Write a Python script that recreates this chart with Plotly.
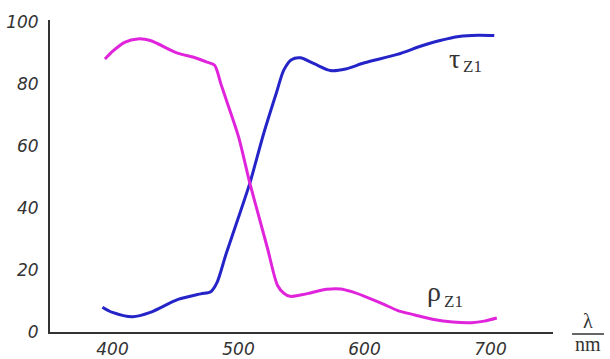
import plotly.graph_objects as go

# Transmission tau_Z1 (blue)
tau_wl = [392, 400, 416, 430, 452, 470, 478, 483, 490, 500, 509, 520, 530, 536, 542, 549,
          560, 573, 585, 600, 626, 645, 660, 675, 690, 703]
tau_val = [8, 6.3, 4.9, 6.3, 10.5, 12.3, 13, 16, 25, 37, 48, 64, 77, 84.5, 87.8, 88.4,
           86.5, 84.3, 84.8, 86.8, 89.5, 92.2, 94, 95.3, 95.7, 95.6]

# Reflection rho_Z1 (magenta)
rho_wl = [394, 400, 410, 420, 430, 451, 465, 475, 481, 486, 491, 500, 509, 515, 523, 531,
          536, 541, 550, 557, 570, 581, 590, 600, 615, 626, 640, 655, 670, 685, 695, 705]
rho_val = [88, 90.5, 93.5, 94.5, 94, 90, 88.5, 87, 86, 80, 74, 63, 48, 39, 27, 15,
           12.5, 11.5, 12, 12.6, 13.8, 13.9, 13, 11.5, 9, 7, 5.5, 4, 3.2, 3, 3.5, 4.5]

x_ticks = [400, 500, 600, 700]
y_ticks = [0, 20, 40, 60, 80, 100]

fig = go.Figure()
fig.add_trace(go.Scatter(x=tau_wl, y=tau_val, mode="lines",
                         line=dict(color="#2424c8", width=3, shape="spline", smoothing=0.8),
                         showlegend=False, hoverinfo="skip"))
fig.add_trace(go.Scatter(x=rho_wl, y=rho_val, mode="lines",
                         line=dict(color="#e024dc", width=3, shape="spline", smoothing=0.8),
                         showlegend=False, hoverinfo="skip"))

W, H = 610, 359
L, R, T, B = 50, 57, 20, 27

serif = "Liberation Serif"
ann = [
    dict(x=454, y=58, text="τ", size=28),
    dict(x=472, y=66, text="Z1", size=17),
    dict(x=434, y=291, text="ρ", size=28),
    dict(x=453, y=301, text="Z1", size=17),
    dict(x=588, y=321, text="λ", size=20),
    dict(x=588, y=344, text="nm", size=20),
]
for a in ann:
    fig.add_annotation(x=(a["x"] - L) / (W - L - R), y=(H - B - a["y"]) / (H - T - B),
                       xref="paper", yref="paper", text=a["text"],
                       showarrow=False, font=dict(family=serif, size=a["size"], color="#333"),
                       xanchor="center", yanchor="middle")

fig.add_shape(type="line", xref="paper", yref="paper",
              x0=(572 - L) / (W - L - R), x1=(604 - L) / (W - L - R),
              y0=(H - B - 334) / (H - T - B), y1=(H - B - 334) / (H - T - B),
              line=dict(color="#333", width=1.5))

tickfont = dict(family="DejaVu Sans", size=17, color="#333", style="italic")
fig.update_layout(
    width=W, height=H,
    margin=dict(l=L, r=R, t=T, b=B, autoexpand=False),
    paper_bgcolor="white", plot_bgcolor="white",
    xaxis=dict(range=[350.4, 749.6], tickvals=x_ticks, ticktext=[str(v) for v in x_ticks],
               showgrid=False, zeroline=False, showline=True, linecolor="#333", linewidth=2,
               ticks="", ticklabelstandoff=1, automargin=False, tickfont=tickfont),
    yaxis=dict(range=[0, 100.6], tickvals=y_ticks, ticktext=[str(v) for v in y_ticks],
               showgrid=False, zeroline=False, showline=True, linecolor="#333", linewidth=2,
               ticks="", ticklabelstandoff=6, automargin=False, tickfont=tickfont),
)

fig.write_html("out.html")
